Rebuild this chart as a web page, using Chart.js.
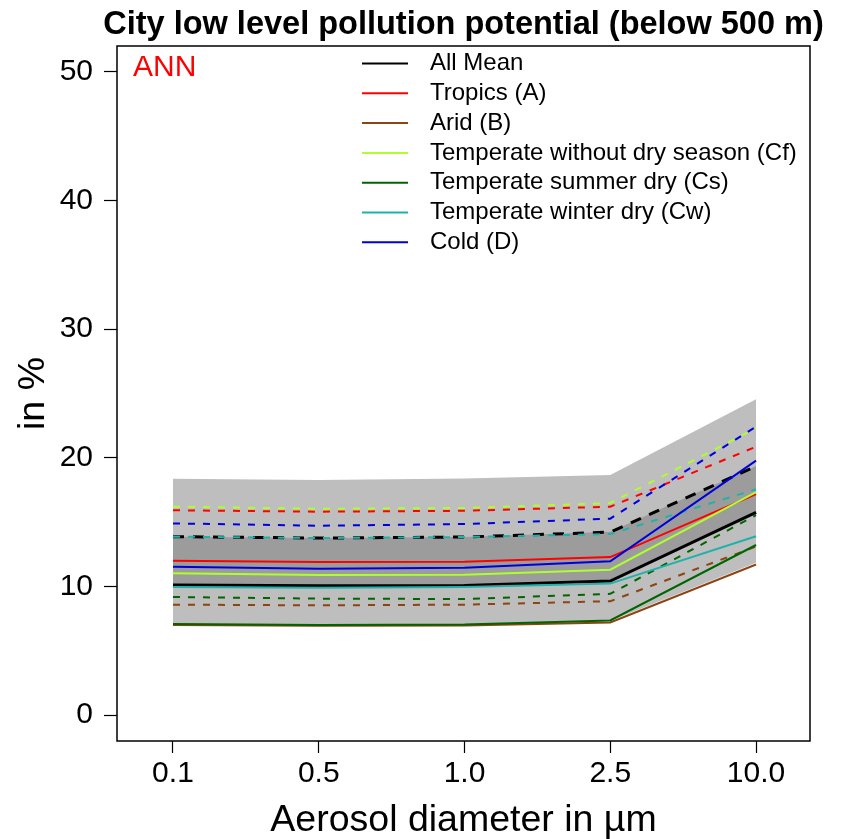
<!DOCTYPE html>
<html>
<head>
<meta charset="utf-8">
<script src="https://cdn.jsdelivr.net/npm/chart.js@4.4.1/dist/chart.umd.min.js"></script>
<style>
  html, body { margin: 0; padding: 0; background: #fff; }
  #wrap { width: 843px; height: 839px; }
</style>
</head>
<body>
<div id="wrap"><canvas id="c" width="843" height="839"></canvas></div>
<script>
const FONT = "'Liberation Sans', Arial, Helvetica, sans-serif";
const TITLE = "City low level pollution potential (below 500 m)";

// aerosol diameter categories (um)
const sizes = ["0.1", "0.5", "1.0", "2.5", "10.0"];
const yTicks = [0, 10, 20, 30, 40, 50];

// solid = mean, dashed = upper value, per climate class (in %)
const allMean      = [10.11, 10.06, 10.08, 10.42, 15.76];
const allMeanHi    = [13.87, 13.76, 13.84, 14.22, 19.35];
const tropics      = [12.00, 11.90, 11.92, 12.28, 17.18];
const tropicsHi    = [15.92, 15.81, 15.88, 16.20, 20.86];
const arid         = [7.00, 6.95, 6.97, 7.19, 11.70];
const aridHi       = [8.58, 8.53, 8.58, 8.85, 13.10];
const tempCf       = [11.02, 10.89, 10.91, 11.30, 17.34];
const tempCfHi     = [16.20, 16.04, 16.10, 16.48, 22.30];
const tempCs       = [7.08, 7.00, 7.04, 7.35, 13.22];
const tempCsHi     = [9.18, 9.05, 9.02, 9.42, 15.55];
const tempCw       = [9.95, 9.90, 9.95, 10.22, 13.90];
const tempCwHi     = [13.87, 13.76, 13.84, 14.07, 17.55];
const cold         = [11.53, 11.38, 11.45, 11.95, 19.78];
const coldHi       = [14.90, 14.72, 14.85, 15.27, 22.42];

// grey ranges
const outerLow  = [7.08, 7.00, 7.04, 7.32, 11.85];
const outerHigh = [18.38, 18.27, 18.40, 18.66, 24.55];
const innerLow  = allMean;
const innerHigh = [13.87, 13.76, 13.84, 14.25, 19.36];

const series = [
  { label: "All Mean", color: "#000000", mean: allMean, hi: allMeanHi, w: 3 },
  { label: "Tropics (A)", color: "#ff0000", mean: tropics, hi: tropicsHi, w: 2 },
  { label: "Arid (B)", color: "#8b4513", mean: arid, hi: aridHi, w: 2 },
  { label: "Temperate without dry season (Cf)", color: "#adff2f", mean: tempCf, hi: tempCfHi, w: 2 },
  { label: "Temperate summer dry (Cs)", color: "#006400", mean: tempCs, hi: tempCsHi, w: 2 },
  { label: "Temperate winter dry (Cw)", color: "#20b2aa", mean: tempCw, hi: tempCwHi, w: 2 },
  { label: "Cold (D)", color: "#0000dd", mean: cold, hi: coldHi, w: 2 }
];

const pts = arr => arr.map((v, i) => ({ x: i + 1, y: v }));

const datasets = [
  { data: pts(outerLow), borderWidth: 0, borderColor: "transparent", pointRadius: 0, fill: false, order: 30 },
  { data: pts(outerHigh), borderWidth: 0, borderColor: "transparent", pointRadius: 0,
    fill: { target: 0 }, backgroundColor: "#bebebe", order: 29 },
  { data: pts(innerLow), borderWidth: 0, borderColor: "transparent", pointRadius: 0, fill: false, order: 28 },
  { data: pts(innerHigh), borderWidth: 0, borderColor: "transparent", pointRadius: 0,
    fill: { target: 2 }, backgroundColor: "#9c9c9c", order: 27 }
];
series.forEach((s, i) => {
  datasets.push({
    data: pts(s.hi), borderColor: s.color, borderWidth: s.w, borderDash: s.w > 2 ? [11, 9] : [7, 8],
    pointRadius: 0, fill: false, order: 20 - i
  });
});
series.forEach((s, i) => {
  datasets.push({
    data: pts(s.mean), borderColor: s.color, borderWidth: s.w,
    pointRadius: 0, fill: false, order: 10 - i
  });
});

// frame, title, ANN tag and legend drawn over the plot
const boxAndLegend = {
  id: "boxAndLegend",
  afterDatasetsDraw(chart) {
    const { ctx, chartArea: a } = chart;
    ctx.save();
    ctx.strokeStyle = "#000";
    ctx.lineWidth = 1.5;
    ctx.strokeRect(a.left, a.top, a.right - a.left, a.bottom - a.top);

    ctx.fillStyle = "#000";
    ctx.font = "bold 32.5px " + FONT;
    ctx.textAlign = "center";
    ctx.textBaseline = "middle";
    ctx.fillText(TITLE, (a.left + a.right) / 2, 25);

    ctx.fillStyle = "#ff0000";
    ctx.font = "30px " + FONT;
    ctx.textAlign = "left";
    ctx.fillText("ANN", a.left + 16, a.top + 22);

    ctx.font = "24px " + FONT;
    series.forEach((s, i) => {
      const y = a.top + 17.5 + i * 29.8;
      ctx.strokeStyle = s.color;
      ctx.lineWidth = 2;
      ctx.beginPath();
      ctx.moveTo(a.left + 245, y);
      ctx.lineTo(a.left + 291, y);
      ctx.stroke();
      ctx.fillStyle = "#000";
      ctx.fillText(s.label, a.left + 313, y);
    });
    ctx.restore();
  }
};

new Chart(document.getElementById("c"), {
  type: "line",
  data: { datasets },
  options: {
    responsive: false,
    animation: false,
    layout: { padding: { left: 0, right: 33, top: 46, bottom: 0 } },
    plugins: {
      legend: { display: false },
      tooltip: { enabled: false },
      title: { display: false }
    },
    scales: {
      x: {
        type: "linear",
        min: 0.616,
        max: 5.37,
        afterBuildTicks: sc => { sc.ticks = sizes.map((_, i) => ({ value: i + 1 })); },
        afterFit: sc => { sc.height = 98; },
        ticks: {
          color: "#000",
          font: { family: FONT, size: 30 },
          padding: 3,
          maxRotation: 0,
          autoSkip: false,
          callback: v => sizes[v - 1]
        },
        grid: { drawOnChartArea: false, drawTicks: true, tickLength: 12, color: "#000", tickWidth: 1.2 },
        border: { display: false },
        title: {
          display: true,
          text: "Aerosol diameter in µm",
          color: "#000",
          font: { family: FONT, size: 37.5, lineHeight: 1.0 },
          padding: { top: 0, bottom: 0 }
        }
      },
      y: {
        type: "linear",
        min: -2.02,
        max: 52.02,
        afterBuildTicks: sc => { sc.ticks = yTicks.map(v => ({ value: v })); },
        afterFit: sc => { sc.width = 117; },
        ticks: {
          color: "#000",
          font: { family: FONT, size: 30 },
          padding: 11,
          callback: v => String(v)
        },
        grid: { drawOnChartArea: false, drawTicks: true, tickLength: 13, color: "#000", tickWidth: 1.2 },
        border: { display: false },
        title: {
          display: true,
          text: "in %",
          color: "#000",
          font: { family: FONT, size: 37.5 },
          padding: { top: 11, bottom: 0 }
        }
      }
    }
  },
  plugins: [boxAndLegend]
});
</script>
</body>
</html>
